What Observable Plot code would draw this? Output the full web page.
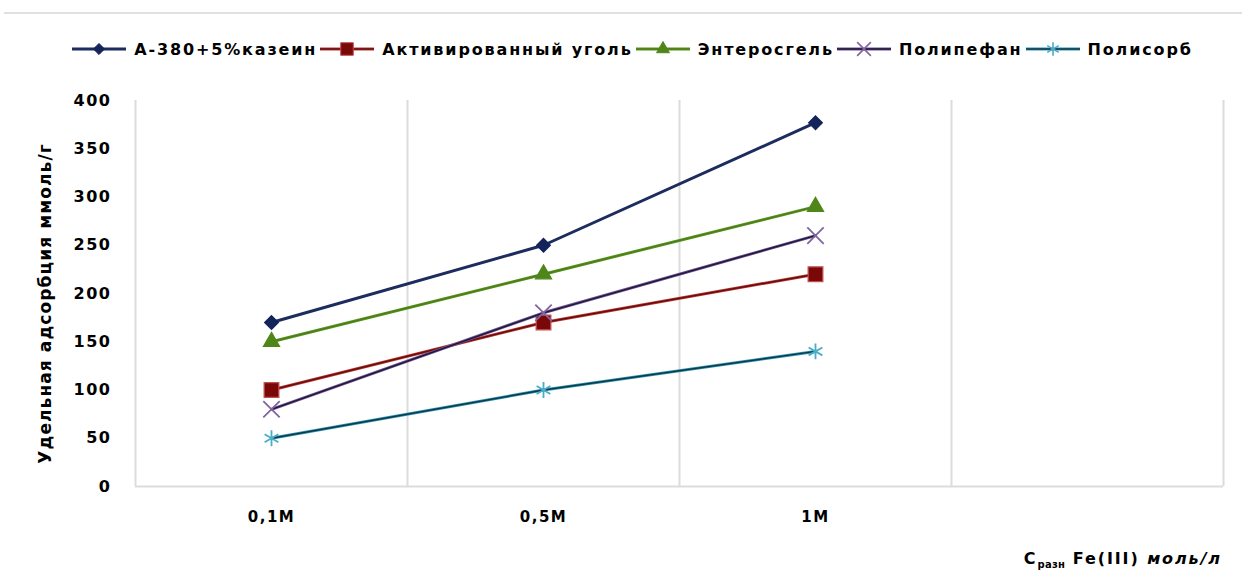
<!DOCTYPE html>
<html>
<head>
<meta charset="utf-8">
<script src="https://cdn.jsdelivr.net/npm/d3@7"></script>
<script src="https://cdn.jsdelivr.net/npm/@observablehq/plot@0.6"></script>
<style>
  html, body { margin: 0; padding: 0; background: #fff; }
  #wrap { width: 1242px; height: 584px; position: relative; font-family: "DejaVu Sans", sans-serif; font-weight: bold; color: #000; }
  #topline { height: 12px; margin-left: 4px; border-bottom: 2px solid #e0e0e0; }
  #legend { height: 56px; display: flex; justify-content: center; align-items: center; padding-top: 14px; box-sizing: border-box; font-size: 16px; letter-spacing: 1.85px; padding-left: 24px; }
  .item { display: flex; align-items: center; }
  .item svg { margin-right: 7px; }
  .item span { margin-right: 2px; }
  #xtitle { height: 44px; text-align: right; padding-right: 20px; font-size: 16px; line-height: 38px; letter-spacing: 1.9px; }
  #xtitle sub { font-size: 10px; letter-spacing: 0.3px; }
</style>
</head>
<body>
<div id="wrap">
  <div id="topline"></div>
  <div id="legend"></div>
  <div id="chart"></div>
  <div id="xtitle">C<sub>разн</sub> Fe(III) <i>моль/л</i></div>
</div>
<script>
// Concentration of Fe(III) solution (x categories); a fourth, empty band follows
const categories = ["0,1M", "0,5M", "1M"];
const bandCount = 4;

// Sorbents
const seriesNames = ["А-380+5%казеин", "Активированный уголь", "Энтеросгель", "Полипефан", "Полисорб"];

// Specific adsorption, mmol/g
const kazein    = [170, 250, 377];
const coal      = [100, 170, 220];
const enteros   = [150, 220, 290];
const polipefan = [80, 180, 260];
const polisorb  = [50, 100, 140];
const seriesValues = [kazein, coal, enteros, polipefan, polisorb];

const yTicks = [0, 50, 100, 150, 200, 250, 300, 350, 400];
const yLabel = "Удельная адсорбция ммоль/г";

// Line / marker styling per series
const styles = [
  {line: "#1c2c5e", core: null,      symbol: "diamond2", r: 6.2, fill: "#13245a", stroke: "#13245a"},
  {line: "#b83a36", core: "#6a0c0c", symbol: "square",   r: 8.3, fill: "#7a0808", stroke: "#c0504d"},
  {line: "#5b931f", core: "#4d7f19", symbol: "triangle", r: 6.0, fill: "#4f861a", stroke: "#4f861a"},
  {line: "#6d5494", core: "#201536", symbol: "times",    r: 7.5, fill: "none",    stroke: "#8064a2"},
  {line: "#2c95b4", core: "#10384a", symbol: "asterisk", r: 7.5, fill: "none",    stroke: "#4bacc6"}
];

const rows = seriesNames.flatMap((name, s) =>
  seriesValues[s].map((v, i) => ({series: name, x: i + 0.5, y: v}))
);

const seriesMarks = seriesNames.flatMap((name, s) => {
  const data = rows.filter(d => d.series === name);
  const st = styles[s];
  const m = [Plot.line(data, {x: "x", y: "y", stroke: st.line, strokeWidth: 3})];
  if (st.core) m.push(Plot.line(data, {x: "x", y: "y", stroke: st.core, strokeWidth: 1.4}));
  m.push(Plot.dot(data, {x: "x", y: "y", symbol: st.symbol, r: st.r, fill: st.fill, stroke: st.stroke, strokeWidth: st.fill === "none" ? 1.8 : 1.2}));
  return m;
});

const chart = Plot.plot({
  width: 1242,
  height: 470,
  marginTop: 30,
  marginBottom: 54,
  marginLeft: 135,
  marginRight: 19,
  style: {fontFamily: "DejaVu Sans, sans-serif", fontWeight: "bold", fontSize: "15px", color: "#000", background: "#fff", letterSpacing: "1.5px"},
  x: {domain: [0, bandCount], axis: null},
  y: {domain: [0, 400], axis: null},
  marks: [
    Plot.ruleX(d3.range(bandCount + 1), {stroke: "#dcdcdc", strokeWidth: 2}),
    Plot.ruleY([0], {stroke: "#dcdcdc", strokeWidth: 2}),
    Plot.axisY({ticks: yTicks, tickSize: 0, tickPadding: 24, fontSize: 16, label: null}),
    Plot.text([yLabel], {frameAnchor: "left", textAnchor: "middle", rotate: -90, dx: -90, dy: 10, fontSize: 17, fill: "#000"}),
    Plot.axisX({
      ticks: categories.map((c, i) => i + 0.5),
      tickFormat: v => categories[Math.floor(v)],
      tickSize: 0, tickPadding: 25, fontSize: 15, label: null
    }),
    ...seriesMarks
  ]
});
document.getElementById("chart").appendChild(chart);

// Slightly tighter letter spacing for the rotated y-axis title
d3.select(chart).selectAll("text").filter(function() { return this.textContent === yLabel; }).style("letter-spacing", "1.1px");

// Legend: line sample with marker, followed by the series name
const symbolMap = {diamond2: d3.symbolDiamond2, square: d3.symbolSquare, triangle: d3.symbolTriangle, times: d3.symbolTimes, asterisk: d3.symbolAsterisk};
const legend = d3.select("#legend");
seriesNames.forEach((name, s) => {
  const st = styles[s];
  const item = legend.append("div").attr("class", "item");
  const svg = item.append("svg").attr("width", 56).attr("height", 20);
  svg.append("line").attr("x1", 1).attr("x2", 55).attr("y1", 10).attr("y2", 10)
    .attr("stroke", st.line).attr("stroke-width", 3);
  if (st.core) svg.append("line").attr("x1", 1).attr("x2", 55).attr("y1", 10).attr("y2", 10)
    .attr("stroke", st.core).attr("stroke-width", 1.3);
  svg.append("path").attr("transform", "translate(28,10)")
    .attr("d", d3.symbol(symbolMap[st.symbol], Math.PI * (st.r - 1.2) ** 2)())
    .attr("fill", st.fill).attr("stroke", st.stroke).attr("stroke-width", st.fill === "none" ? 1.6 : 1);
  item.append("span").text(name);
});
</script>
</body>
</html>
